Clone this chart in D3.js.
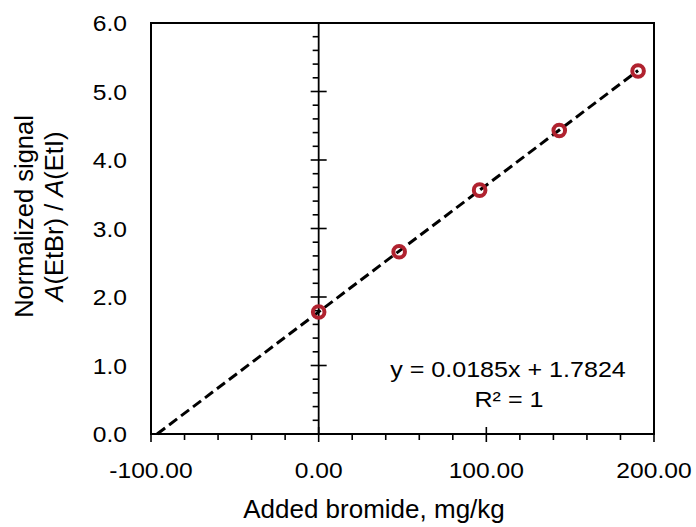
<!DOCTYPE html>
<html>
<head>
<meta charset="utf-8">
<script src="https://cdn.jsdelivr.net/npm/d3@7"></script>
<style>
  html, body { margin: 0; padding: 0; background: #fff; }
  svg { display: block; }
  text { font-family: "Liberation Sans", Arial, sans-serif; fill: #000; }
</style>
</head>
<body>
<svg id="chart" width="696" height="527"></svg>
<script>
// Calibration data: added bromide (mg/kg) vs. normalized signal
const addedBromide = [0, 48, 96, 143.5, 190.5];
const normalizedSignal = [1.78, 2.66, 3.56, 4.43, 5.30];

// Linear fit reported on the chart
const fitSlope = 0.0185;
const fitIntercept = 1.7824;
const fitLabel = "y = 0.0185x + 1.7824";
const r2Label = "R² = 1";

// Axis ticks
const xMajorTicks = [-100, 0, 100, 200];
const yMajorTicks = [0, 1, 2, 3, 4, 5, 6];
const xTitle = "Added bromide, mg/kg";

const svg = d3.select("#chart");
const plotLeft = 151, plotRight = 654, plotTop = 23, plotBottom = 434;

const x = d3.scaleLinear().domain([-100, 200]).range([plotLeft, plotRight]);
const y = d3.scaleLinear().domain([0, 6]).range([plotBottom, plotTop]);

// Plain hyphen for negative numbers
const locale = d3.formatLocale({ decimal: ".", thousands: ",", grouping: [3], currency: ["", ""], minus: "-" });
const fmtX = locale.format(".2f");
const fmtY = locale.format(".1f");

const x0 = x(0), y0 = y(0);
const tickFont = 22, tickStretch = 1.12;

// Plot area border
svg.append("rect")
  .attr("x", plotLeft).attr("y", plotTop)
  .attr("width", plotRight - plotLeft).attr("height", plotBottom - plotTop)
  .attr("fill", "none").attr("stroke", "#000").attr("stroke-width", 2);

// Horizontal axis at y = 0
const xMinor = d3.range(-100, 201, 20).filter(v => !xMajorTicks.includes(v));
svg.append("g").selectAll("line").data(xMinor).join("line")
  .attr("x1", d => x(d)).attr("x2", d => x(d))
  .attr("y1", y0).attr("y2", y0 + 6)
  .attr("stroke", "#000").attr("stroke-width", 1.6);
svg.append("g").selectAll("line").data(xMajorTicks).join("line")
  .attr("x1", d => x(d)).attr("x2", d => x(d))
  .attr("y1", y0 - 7).attr("y2", y0 + 8)
  .attr("stroke", "#000").attr("stroke-width", 1.6);
svg.append("line")
  .attr("x1", plotLeft).attr("x2", plotRight).attr("y1", y0).attr("y2", y0)
  .attr("stroke", "#000").attr("stroke-width", 1.8);

// Vertical axis at x = 0
const yMinor = d3.range(0, 30).map(i => i * 0.2).filter(v => Math.abs(v - Math.round(v)) > 1e-6);
svg.append("g").selectAll("line").data(yMinor).join("line")
  .attr("x1", x0 - 6).attr("x2", x0)
  .attr("y1", d => y(d)).attr("y2", d => y(d))
  .attr("stroke", "#000").attr("stroke-width", 1.6);
svg.append("g").selectAll("line").data(yMajorTicks).join("line")
  .attr("x1", x0 - 8).attr("x2", x0 + 8)
  .attr("y1", d => y(d)).attr("y2", d => y(d))
  .attr("stroke", "#000").attr("stroke-width", 1.6);
svg.append("line")
  .attr("x1", x0).attr("x2", x0).attr("y1", plotTop).attr("y2", plotBottom)
  .attr("stroke", "#000").attr("stroke-width", 1.8);

// Tick labels
svg.append("g").selectAll("text").data(xMajorTicks).join("text")
  .attr("transform", d => `translate(${x(d)},478) scale(${tickStretch},1)`)
  .attr("text-anchor", "middle")
  .attr("font-size", tickFont)
  .text(d => fmtX(d));

svg.append("g").selectAll("text").data(yMajorTicks).join("text")
  .attr("transform", d => `translate(127,${y(d) + 8}) scale(${tickStretch},1)`)
  .attr("text-anchor", "end")
  .attr("font-size", tickFont)
  .text(d => fmtY(d));

// Axis titles
svg.append("text")
  .attr("transform", "translate(374,518) scale(1.04,1)")
  .attr("text-anchor", "middle")
  .attr("font-size", 25)
  .text(xTitle);

const yTitle = svg.append("g").attr("transform", "translate(0,216.5)");
yTitle.append("text")
  .attr("transform", "translate(33,0) rotate(-90)")
  .attr("text-anchor", "middle")
  .attr("font-size", 25.5)
  .text("Normalized signal");
const yTitle2 = yTitle.append("text")
  .attr("transform", "translate(63,0) rotate(-90)")
  .attr("text-anchor", "middle")
  .attr("font-size", 25.5);
yTitle2.append("tspan").attr("font-style", "italic").text("A");
yTitle2.append("tspan").text("(EtBr) / ");
yTitle2.append("tspan").attr("font-style", "italic").text("A");
yTitle2.append("tspan").text("(EtI)");

// Trendline from the y = 0 intercept to the last sample
const trendStart = -fitIntercept / fitSlope;
const trendEnd = d3.max(addedBromide);
const trendData = [trendStart, trendEnd].map(v => [v, fitIntercept + fitSlope * v]);
svg.append("path")
  .datum(trendData)
  .attr("d", d3.line().x(d => x(d[0])).y(d => y(d[1])))
  .attr("fill", "none")
  .attr("stroke", "#000")
  .attr("stroke-width", 3)
  .attr("stroke-dasharray", "10,5");

// Data markers
svg.append("g").selectAll("circle")
  .data(addedBromide.map((v, i) => [v, normalizedSignal[i]]))
  .join("circle")
  .attr("cx", d => x(d[0])).attr("cy", d => y(d[1]))
  .attr("r", 5.8)
  .attr("fill", "none")
  .attr("stroke", "#b0222f")
  .attr("stroke-width", 4);

// Fit equation
svg.append("text")
  .attr("transform", "translate(508,377) scale(1.14,1)")
  .attr("text-anchor", "middle")
  .attr("font-size", 22)
  .text(fitLabel);
svg.append("text")
  .attr("transform", "translate(509,407) scale(1.14,1)")
  .attr("text-anchor", "middle")
  .attr("font-size", 22)
  .text(r2Label);
</script>
</body>
</html>
